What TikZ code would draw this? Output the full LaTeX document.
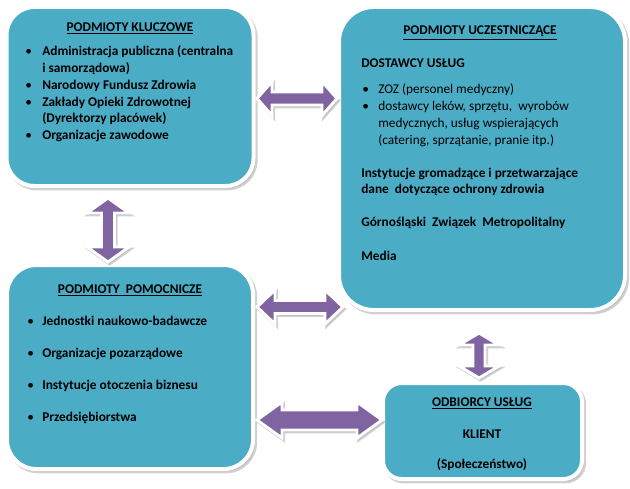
\documentclass[tikz,border=0pt]{standalone}
\usepackage{fontspec}
\setmainfont{Carlito}
\usetikzlibrary{shadows}
\definecolor{tealbox}{HTML}{4BACC6}
\definecolor{purparr}{HTML}{8064A2}
\newcommand\hdarr[6]{% x1,x2,yc,headlen,headhalf,shafthalf
  \path[blockarr] (#1,#3) -- (#1+#4,#3-#5) -- (#1+#4,#3-#6) -- (#2-#4,#3-#6) -- (#2-#4,#3-#5) -- (#2,#3)
    -- (#2-#4,#3+#5) -- (#2-#4,#3+#6) -- (#1+#4,#3+#6) -- (#1+#4,#3+#5) -- cycle;}
\newcommand\vdarr[6]{% y1,y2,xc,headlen,headhalf,shafthalf
  \path[blockarr] (#3,#1) -- (#3+#5,#1+#4) -- (#3+#6,#1+#4) -- (#3+#6,#2-#4) -- (#3+#5,#2-#4) -- (#3,#2)
    -- (#3-#5,#2-#4) -- (#3-#6,#2-#4) -- (#3-#6,#1+#4) -- (#3-#5,#1+#4) -- cycle;}
\begin{document}
\begin{tikzpicture}[x=0.75pt,y=-0.75pt,
  box/.style={rectangle, fill=tealbox, draw=white, line width=3pt, inner sep=0pt, outer sep=0pt,
    drop shadow={shadow xshift=1.6pt, shadow yshift=-1.8pt, fill=black!30, draw=black!30, line width=3pt, opacity=0.6}},
  blockarr/.style={fill=purparr, draw=white, line width=2.2pt, line join=miter,
    drop shadow={shadow xshift=1.2pt, shadow yshift=-1.5pt, fill=black!30, draw=black!30, line width=2.2pt, opacity=0.6}},
  txt/.style={anchor=base west, inner sep=0pt, font=\bfseries\fontsize{10}{12}\selectfont},
  rtxt/.style={anchor=base west, inner sep=0pt, font=\fontsize{10}{12}\selectfont},
  ctxt/.style={anchor=base, inner sep=0pt, font=\bfseries\fontsize{10}{12}\selectfont},
  bul/.style={anchor=base west, inner sep=0pt, font=\fontsize{10}{12}\selectfont}]
\useasboundingbox (0,0) rectangle (630,488);

% boxes
\node[box, rounded corners=21pt, minimum width=247*0.75pt, minimum height=179*0.75pt] (kluczowe) at (130,96.5) {};
\node[box, rounded corners=26pt, minimum width=286*0.75pt, minimum height=303*0.75pt] (uczest) at (482,158.5) {};
\node[box, rounded corners=22pt, minimum width=246*0.75pt, minimum height=204*0.75pt] (pomoc) at (130,367) {};
\node[box, rounded corners=14pt, minimum width=199*0.75pt, minimum height=96*0.75pt] (odbior) at (482.5,431) {};

% arrows
\hdarr{257}{337}{98.5}{15}{17}{6.5}
\vdarr{198}{262}{108}{15}{21}{6.5}
\hdarr{257}{343}{307}{18}{17}{6.5}
\vdarr{333}{378}{479}{12}{20}{6}
\hdarr{257}{382}{420}{25}{18}{10}

% box 1 text
\node[ctxt] (k0) at (130,31.5) {\underline{PODMIOTY KLUCZOWE}};
\node[bul] (kb1) at (25,56) {\textbullet};
\node[txt] (k1) at (42,56) {Administracja publiczna (centralna};
\node[txt] (k2) at (42,73) {i samorządowa)};
\node[bul] (kb2) at (25,90) {\textbullet};
\node[txt] (k3) at (42,90) {Narodowy Fundusz Zdrowia};
\node[bul] (kb3) at (25,107) {\textbullet};
\node[txt] (k4) at (42,107) {Zakłady Opieki Zdrowotnej};
\node[txt] (k5) at (42,123) {(Dyrektorzy placówek)};
\node[bul] (kb4) at (25,140) {\textbullet};
\node[txt] (k6) at (42,140) {Organizacje zawodowe};

% box 2 text
\node[ctxt] (u0) at (480,35) {\underline{PODMIOTY UCZESTNICZĄCE}};
\node[txt] (u1) at (361,68) {DOSTAWCY USŁUG};
\node[bul] (ub1) at (362,94) {\textbullet};
\node[rtxt] (u2) at (378,94) {ZOZ (personel medyczny)};
\node[bul] (ub2) at (362,111) {\textbullet};
\node[rtxt] (u3) at (378,111) {dostawcy leków, sprzętu,\ \ wyrobów};
\node[rtxt] (u4) at (378,128) {medycznych, usług wspierających};
\node[rtxt] (u5) at (378,145) {(catering, sprzątanie, pranie itp.)};
\node[txt] (u6) at (361,177) {Instytucje gromadzące i przetwarzające};
\node[txt] (u7) at (361,193) {dane\ \ dotyczące ochrony zdrowia};
\node[txt] (u8) at (361,226) {Górnośląski\ \ Związek\ \ Metropolitalny};
\node[txt] (u9) at (361,260) {Media};

% box 3 text
\node[ctxt] (p0) at (130,293) {\underline{PODMIOTY\ \ POMOCNICZE}};
\node[bul] (pb1) at (27,325) {\textbullet};
\node[txt] (p1) at (42,325) {Jednostki naukowo-badawcze};
\node[bul] (pb2) at (27,357) {\textbullet};
\node[txt] (p2) at (42,357) {Organizacje pozarządowe};
\node[bul] (pb3) at (27,389) {\textbullet};
\node[txt] (p3) at (42,389) {Instytucje otoczenia biznesu};
\node[bul] (pb4) at (27,421) {\textbullet};
\node[txt] (p4) at (42,421) {Przedsiębiorstwa};

% box 4 text
\node[ctxt] (o0) at (482,406) {\underline{ODBIORCY USŁUG}};
\node[ctxt] (o1) at (482,438) {KLIENT};
\node[ctxt] (o2) at (482,468) {(Społeczeństwo)};
\end{tikzpicture}
\end{document}
